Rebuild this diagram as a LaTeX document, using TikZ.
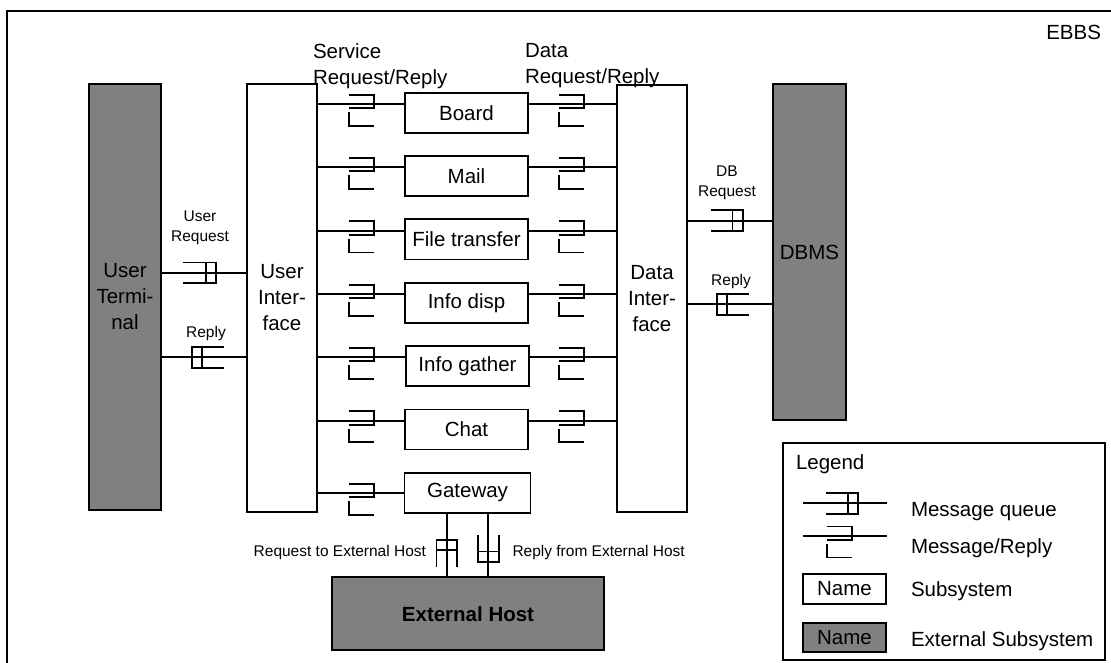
\documentclass[tikz,border=0pt]{standalone}
\usepackage{fontspec}
\setmainfont{Liberation Sans}
\definecolor{extgray}{RGB}{128,128,128}
\begin{document}
\begin{tikzpicture}[x=1pt,y=-1pt,
  every node/.style={inner sep=0pt, outer sep=0pt},
  line/.style={line width=1.8pt},
  big/.style={font=\fontsize{20.5}{26}\selectfont},
  small/.style={font=\fontsize{15.5}{19.5}\selectfont},
  box/.style={draw, line width=1.8pt, fill=white, big, align=center},
  subsys/.style={box, minimum width=123pt, minimum height=40pt},
  extsys/.style={draw, line width=1.8pt, fill=extgray, big, align=center},
  % queue: two bars closed at the origin end, open towards -x
  pics/msgqueue/.style={code={
     \draw[line] (-#1,-10.3) -- (0,-10.3) -- (0,10.3) -- (-#1,10.3);
     \draw[line] (-10.3,-10.3) -- (-10.3,10.3);}},
  % message/reply: hook above the line and an L below it
  pics/msgreply/.style={code={
     \draw[line] (0,-9.5) -- (25,-9.5) -- (25,4) -- (0,4);
     \draw[line] (0,8) -- (0,21.5) -- (25,21.5);}},
]
\useasboundingbox (0,0) rectangle (1111,663);
\fill[white] (0,0) rectangle (1111,663);

% system frame
\draw[line width=2pt] (1111,11) -- (7,11) -- (7,663);
\node[big, anchor=base east] (ebbs) at (1101,39.3) {EBBS};

% main blocks
\node[extsys, minimum width=72pt, minimum height=426pt] (ut) at (125,297) {User\\Termi-\\nal};
\node[box, minimum width=70pt, minimum height=428pt] (ui) at (282,298) {User\\Inter-\\face};
\node[box, minimum width=70pt, minimum height=427pt] (di) at (652,298.5) {Data\\Inter-\\face};
\node[extsys, minimum width=73pt, minimum height=336pt] (dbms) at (809.5,252) {DBMS};
\node[extsys, minimum width=272pt, minimum height=73pt, font=\fontsize{20.5}{26}\selectfont\bfseries] (eh) at (468,613.7) {External Host};

% services
\node[subsys] (board)  at (466.5,112.7) {Board};
\node[subsys] (mail)   at (466.5,176.0) {Mail};
\node[subsys] (file)   at (466.5,239.4) {File transfer};
\node[subsys] (disp)   at (466.5,302.7) {Info disp};
\node[subsys] (gather) at (467.5,366.0) {Info gather};
\node[subsys] (chat)   at (466.5,429.4) {Chat};
\node[subsys, minimum width=126pt] (gw) at (467.5,492.7) {Gateway};

% column headings
\node[big, anchor=north west, align=left] (svclbl) at (313,43.5) {Service\\Request/Reply};
\node[big, anchor=north west, align=left] (datalbl) at (525,43.5) {Data\\Request/Reply};

% user terminal <-> user interface
\coordinate (ureq) at (200,272.7);
\coordinate (urep) at (200,357.3);
\draw[line] (ut.east |- ureq) -- (ui.west |- ureq);
\draw[line] (ut.east |- urep) -- (ui.west |- urep);
\pic at (216,272.7) {msgqueue=33};
\pic[xscale=-1] at (191.7,357.3) {msgqueue=32.3};
\node[small, align=center] (ureqlbl) at (200,228) {User\\Request};
\node[small] (ureplbl) at (206,333) {Reply};

% data interface <-> DBMS
\coordinate (dreq) at (730,220.7);
\coordinate (drep) at (730,304.3);
\draw[line] (di.east |- dreq) -- (dbms.west |- dreq);
\draw[line] (di.east |- drep) -- (dbms.west |- drep);
\pic at (742.7,220.7) {msgqueue=32};
\pic[xscale=-1] at (716.7,304.3) {msgqueue=32.3};
\node[small, align=center] (dreqlbl) at (727,183) {DB\\Request};
\node[small] (dreplbl) at (731,281) {Reply};

% service rows
\foreach \s/\y in {board/104.3, mail/167.3, file/230.9, disp/294.2, gather/357.3, chat/420.8} {
  \coordinate (row-\s) at (466,\y);
  \draw[line] (ui.east |- row-\s) -- (\s.west |- row-\s);
  \draw[line] (\s.east |- row-\s) -- (di.west |- row-\s);
  \pic at (349.3,\y) {msgreply};
  \pic at (559,\y) {msgreply};
}
\coordinate (row-gw) at (466,493.3);
\draw[line] (ui.east |- row-gw) -- (gw.west |- row-gw);
\pic at (349.3,493.3) {msgreply};

% gateway <-> external host
\coordinate (gwreq) at (446.7,540);
\coordinate (gwrep) at (488.3,540);
\draw[line] (gw.south -| gwreq) -- (eh.north -| gwreq);
\draw[line] (gw.south -| gwrep) -- (eh.north -| gwrep);
\pic[rotate=90] at (446.7,540) {msgqueue=26.7};
\pic[rotate=-90] at (488.3,561.7) {msgqueue=26.7};
\node[small, anchor=east] (gwreqlbl) at (426,552) {Request to External Host};
\node[small, anchor=west] (gwreplbl) at (512.5,552) {Reply from External Host};

% legend
\node[draw, line width=1.5pt, fill=white, minimum width=322pt, minimum height=217pt] (legend) at (944,551.5) {};
\node[big, anchor=base west] (legtitle) at (796,469.7) {Legend};
\coordinate (lq1) at (802.7,503.3);
\coordinate (lq2) at (887.3,503.3);
\draw[line] (lq1) -- (lq2);
\pic at (858.3,503.3) {msgqueue=32.3};
\node[big, anchor=base west] (lqtxt) at (911,516) {Message queue};
\coordinate (lr1) at (802.7,536);
\coordinate (lr2) at (887.3,536);
\draw[line] (lr1) -- (lr2);
\pic at (826.7,536) {msgreply};
\node[big, anchor=base west] (lrtxt) at (911,553.3) {Message/Reply};
\node[box, minimum width=83pt, minimum height=30pt] (lsub) at (844.4,589) {Name};
\node[big, anchor=base west] (lsubtxt) at (911,596.7) {Subsystem};
\node[extsys, minimum width=83pt, minimum height=29pt] (lext) at (844.4,637.2) {Name};
\node[big, anchor=base west] (lexttxt) at (911,646) {External Subsystem};
\end{tikzpicture}
\end{document}
